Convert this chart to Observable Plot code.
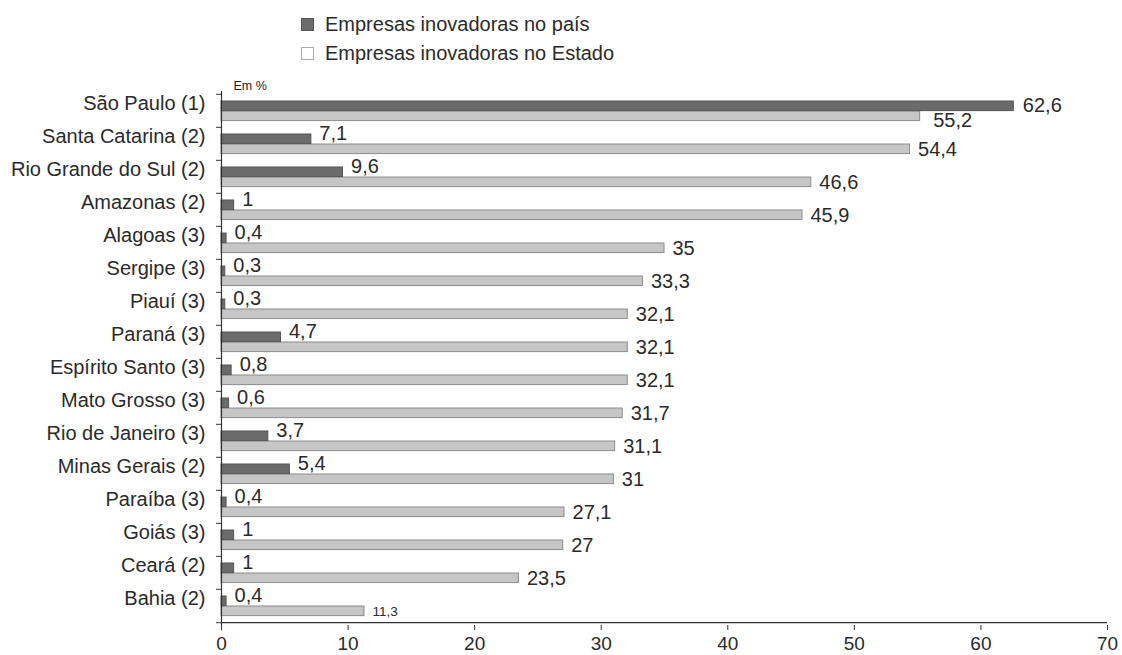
<!DOCTYPE html>
<html>
<head>
<meta charset="utf-8">
<script src="https://cdn.jsdelivr.net/npm/d3@7"></script>
<script src="https://cdn.jsdelivr.net/npm/@observablehq/plot@0.6"></script>
<style>
  html, body { margin: 0; padding: 0; background: #fff; }
  body { width: 1122px; height: 655px; overflow: hidden; font-family: "Liberation Sans", Arial, sans-serif; color: #2a2a2a; }
  #legend { height: 70px; position: relative; }
  #chart svg { display: block; }
  .item { position: absolute; left: 301px; display: flex; align-items: center; font-size: 20px; color: #2a2a2a; }
  .sw { width: 13px; height: 13px; margin-right: 11px; box-sizing: border-box; }
</style>
</head>
<body>
<div id="legend"></div>
<div id="chart"></div>
<script>
const states = ["São Paulo (1)", "Santa Catarina (2)", "Rio Grande do Sul (2)", "Amazonas (2)", "Alagoas (3)", "Sergipe (3)", "Piauí (3)", "Paraná (3)", "Espírito Santo (3)", "Mato Grosso (3)", "Rio de Janeiro (3)", "Minas Gerais (2)", "Paraíba (3)", "Goiás (3)", "Ceará (2)", "Bahia (2)"];
const pais = [62.6, 7.1, 9.6, 1, 0.4, 0.3, 0.3, 4.7, 0.8, 0.6, 3.7, 5.4, 0.4, 1, 1, 0.4];
const estado = [55.2, 54.4, 46.6, 45.9, 35, 33.3, 32.1, 32.1, 32.1, 31.7, 31.1, 31, 27.1, 27, 23.5, 11.3];
const xTicks = [0, 10, 20, 30, 40, 50, 60, 70];
const seriesNames = ["Empresas inovadoras no país", "Empresas inovadoras no Estado"];
const unitLabel = "Em %";

const darkFill = "#6b6b6b", darkStroke = "#555", lightFill = "#c6c6c6", lightStroke = "#8c8c8c";
const ink = "#2a2a2a";

// legend
const legend = document.getElementById("legend");
[[darkFill, darkStroke], ["#fff", "#aaa"]].forEach(([f, s], i) => {
  const it = document.createElement("div");
  it.className = "item";
  it.style.top = (13 + i * 29) + "px";
  it.innerHTML = `<span class="sw" style="background:${f};border:1px solid ${s}"></span><span>${seriesNames[i]}</span>`;
  legend.appendChild(it);
});

const rows = states.map((s, i) => ({state: s, pais: pais[i], estado: estado[i]}));
const fmt = d => String(d).replace(".", ",");

const W = 1122, H = 585, mL = 221, mR = 15, mT = 21, mB = 30;
const band = (H - mT - mB) / states.length;
const first = states[0], last = states[states.length - 1];

const chart = Plot.plot({
  width: W, height: H,
  marginLeft: mL, marginRight: mR, marginTop: mT, marginBottom: mB,
  style: {fontFamily: "'Liberation Sans', Arial, sans-serif", fontSize: "20px", color: ink, background: "#fff", overflow: "visible"},
  x: {domain: [0, 70], label: null},
  y: {domain: states, padding: 0, label: null},
  marks: [
    Plot.barX(rows, {x: "estado", y: "state", insetTop: 17, insetBottom: 6.4, fill: lightFill, stroke: lightStroke, strokeWidth: 1}),
    Plot.barX(rows, {x: "pais", y: "state", insetTop: 7, insetBottom: 16.4, fill: darkFill, stroke: darkStroke, strokeWidth: 1}),
    Plot.ruleX([0], {stroke: "#333", strokeWidth: 1.2}),
    Plot.ruleY([last], {y: d => d, dy: band / 2, stroke: "#333", strokeWidth: 1.2}),
    Plot.axisX({ticks: xTicks, tickSize: 5, tickPadding: 6, fontSize: 19, anchor: "bottom", stroke: "#333", fill: ink}),
    Plot.axisY({tickSize: 0, tickPadding: 16, fontSize: 20, anchor: "left", fill: ink, dy: -7}),
    Plot.axisY({tickSize: 5, tickFormat: () => "", dy: -band / 2, anchor: "left", stroke: "#333"}),
    Plot.axisY([last], {tickSize: 5, tickFormat: () => "", dy: band / 2, anchor: "left", stroke: "#333"}),
    // value labels
    Plot.text(rows.filter(d => d.state !== first), {x: "pais", y: "state", text: d => fmt(d.pais), textAnchor: "start", dx: 8, dy: -10, fontSize: 20, fill: ink}),
    Plot.text(rows.filter(d => d.state === first), {x: "pais", y: "state", text: d => fmt(d.pais), textAnchor: "start", dx: 9, dy: -5, fontSize: 20, fill: ink}),
    Plot.text(rows.filter(d => d.state !== first), {x: "estado", y: "state", text: d => fmt(d.estado), textAnchor: "start", dx: 8, dy: 5.5, fontSize: d => d.state === last ? 13.5 : 20, fill: ink}),
    Plot.text(rows.filter(d => d.state === first), {x: "estado", y: "state", text: d => fmt(d.estado), textAnchor: "start", dx: 13, dy: 10, fontSize: 20, fill: ink}),
    Plot.text([unitLabel], {frameAnchor: "top-left", text: d => d, dx: 12, dy: -10, fontSize: 12.5, fill: "#222", textAnchor: "start"})
  ]
});
document.getElementById("chart").appendChild(chart);
</script>
</body>
</html>
